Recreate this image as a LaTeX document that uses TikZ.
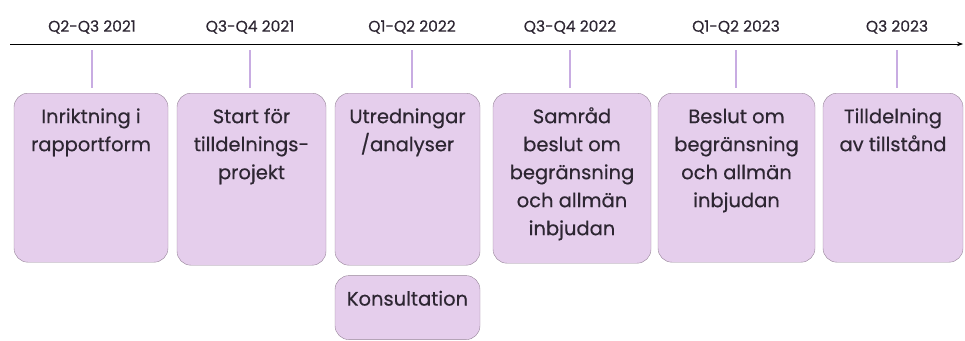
\documentclass[tikz,border=0pt]{standalone}
\usepackage{fontspec}
\setmainfont{Poppins}
\newfontfamily\medfont{Poppins}[FakeBold=0.4]
\usepackage{tikz}
\usetikzlibrary{positioning,arrows.meta}
\definecolor{boxfill}{RGB}{229,206,236}
\definecolor{boxline}{RGB}{150,132,152}
\definecolor{tickline}{RGB}{200,172,226}
\definecolor{txt}{RGB}{45,38,50}
\newcommand{\boxtext}[3]{\parbox[t][#2][t]{#1}{\centering\rule{0pt}{30pt}#3}}

\begin{document}
\begin{tikzpicture}[x=1pt, y=-1pt,
  phase/.style={draw=boxline, fill=boxfill, rounded corners=14pt, anchor=north,
    inner sep=0pt, text=txt, font=\medfont\fontsize{19.5}{28}\selectfont},
  quarter/.style={text=txt, font=\medfont\fontsize{15.5}{17}\selectfont},
  tick/.style={tickline, line width=1.2pt}]
  \clip (0,0) rectangle (965,340);
  % time axis
  \coordinate (axL) at (10,44);
  \coordinate (axR) at (963,44);
  \draw[line width=0.9pt, -{Stealth[length=6pt]}] (axL) -- (axR);
  % quarters, ticks and phases
  \foreach \i/\qx/\bx/\bw/\bh/\qlab/\ptext in {
    1/92/91/154/169/{Q2-Q3 2021}/{Inriktning i\\rapportform},
    2/250/251.5/149/172/{Q3-Q4 2021}/{Start för\\tilldelnings-\\projekt},
    3/412/407.5/145/172/{Q1-Q2 2022}/{Utredningar\\/analyser},
    4/570/572/158/170/{Q3-Q4 2022}/{Samråd\\beslut om\\begränsning\\och allmän\\inbjudan},
    5/736/736.5/157/169/{Q1-Q2 2023}/{Beslut om\\begränsning\\och allmän\\inbjudan},
    6/897/893/140/169/{Q3 2023}/{Tilldelning\\av tillstånd}}{
    \node[quarter] (q\i) at (\qx,27) {\qlab};
    \coordinate (t\i) at (\qx,50);
    \node[phase] (b\i) at (\bx,93) {\boxtext{\bw pt}{\bh pt}{\ptext}};
    \draw[tick, shorten >=5pt] (t\i) -- (t\i |- b\i.north);}
  % extra step under the third phase
  \node[phase, below=10pt of b3] (k3) {\boxtext{145pt}{64pt}{Konsultation}};
\end{tikzpicture}
\end{document}
